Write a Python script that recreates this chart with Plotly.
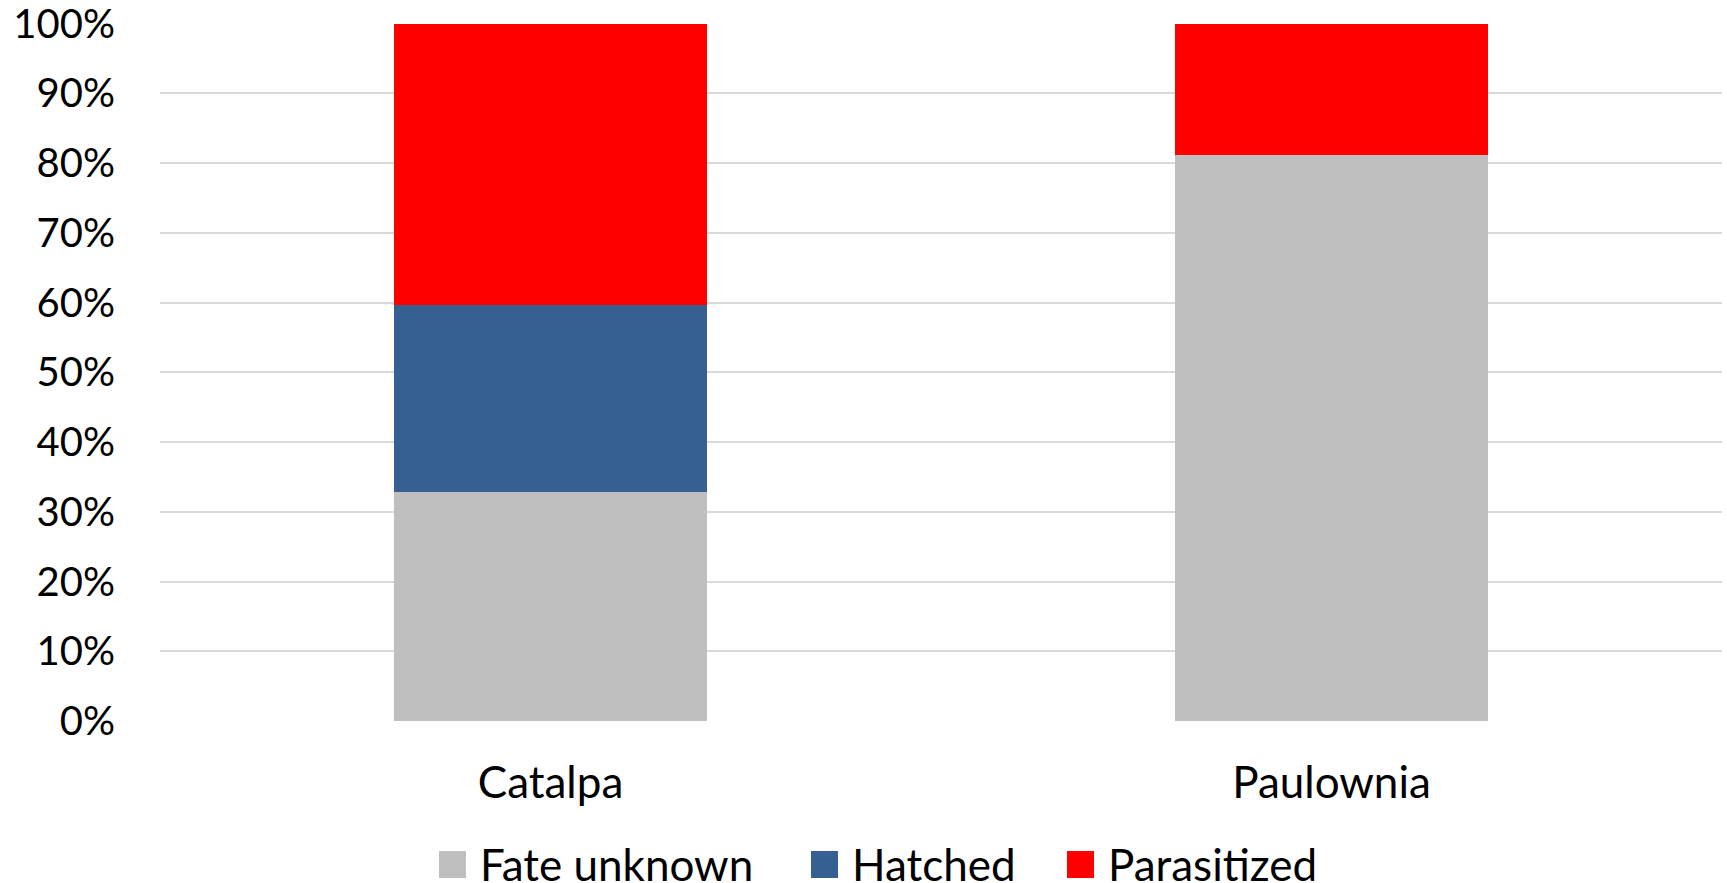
import plotly.graph_objects as go

# Egg mass fate by host tree (percent of egg masses)
hosts = ["Catalpa", "Paulownia"]
fate_unknown = [32.8, 81.1]
hatched = [26.8, 0.0]
parasitized = [40.4, 18.9]

series_names = ["Fate unknown", "Hatched", "Parasitized"]
series_values = [fate_unknown, hatched, parasitized]
series_colors = ["#BFBFBF", "#376092", "#FF0000"]

y_ticks = list(range(0, 101, 10))
y_tick_labels = [f"{t}%" for t in y_ticks]

W, H = 1727, 883
M_L, M_R, M_T, M_B = 160, 5, 23, 162
FONT = "Lato"
TICK_SIZE = 40
LABEL_SIZE = 44

fig = go.Figure()
for name, vals, col in zip(series_names, series_values, series_colors):
    fig.add_trace(go.Bar(
        x=hosts, y=vals, name=name,
        marker=dict(color=col, line=dict(width=0)),
        showlegend=False,
        hovertemplate="%{x}<br>" + name + ": %{y:.1f}%<extra></extra>",
    ))

# Legend row drawn as colour keys with labels underneath the axis
plot_w = W - M_L - M_R
plot_h = H - M_T - M_B
key_px = [439, 811, 1067]
key_size = 27
key_bottom = 878
shapes = []
annotations = []
for name, col, kx in zip(series_names, series_colors, key_px):
    x0 = (kx - M_L) / plot_w
    x1 = (kx + key_size - M_L) / plot_w
    y0 = (H - M_B - key_bottom) / plot_h
    y1 = (H - M_B - (key_bottom - key_size)) / plot_h
    shapes.append(dict(type="rect", xref="paper", yref="paper",
                       x0=x0, x1=x1, y0=y0, y1=y1,
                       fillcolor=col, line=dict(width=0)))
    annotations.append(dict(
        text=name, xref="paper", yref="paper",
        x=(kx + key_size + 12 - M_L) / plot_w,
        y=(H - M_B - (key_bottom - key_size / 2 - 1)) / plot_h,
        xanchor="left", yanchor="middle", showarrow=False,
        font=dict(family=FONT, size=LABEL_SIZE, color="#000000"),
    ))

fig.update_layout(
    width=W, height=H,
    margin=dict(l=M_L, r=M_R, t=M_T, b=M_B, pad=0, autoexpand=False),
    barmode="stack", bargap=0.6,
    plot_bgcolor="#FFFFFF", paper_bgcolor="#FFFFFF",
    font=dict(family=FONT, size=TICK_SIZE, color="#000000"),
    shapes=shapes, annotations=annotations,
    xaxis=dict(showgrid=False, showline=False, zeroline=False,
               ticks="", ticklabelstandoff=32, automargin=False,
               tickfont=dict(family=FONT, size=LABEL_SIZE, color="#000000")),
    yaxis=dict(range=[0, 100.1], tickvals=y_ticks, ticktext=y_tick_labels,
               showgrid=True, gridcolor="#D9D9D9", gridwidth=1.5,
               zeroline=False, showline=False, ticks="", automargin=False,
               ticklabelstandoff=44, ticklabeloverflow="allow",
               tickfont=dict(family=FONT, size=TICK_SIZE, color="#000000")),
)

fig.write_html("out.html")
